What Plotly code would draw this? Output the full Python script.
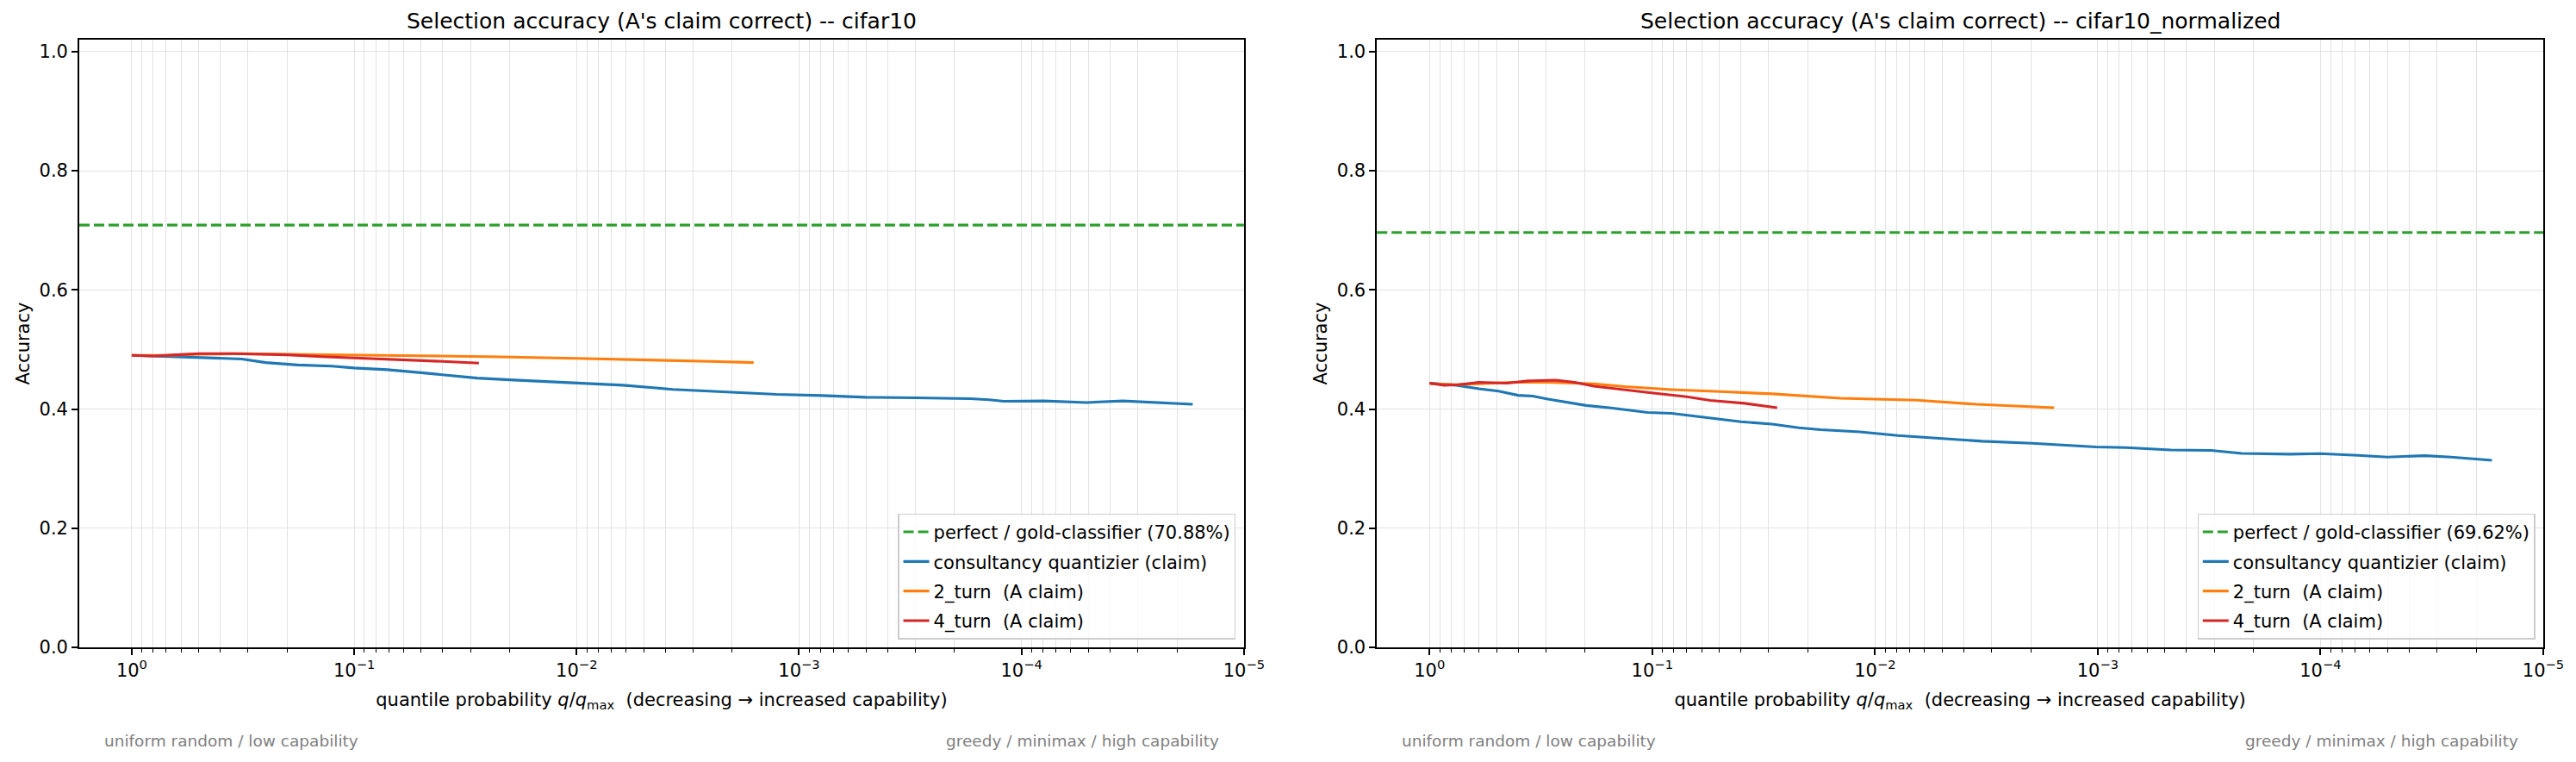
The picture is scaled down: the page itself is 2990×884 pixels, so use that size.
import plotly.graph_objects as go

# ---------------- data ----------------
panel_titles = ["Selection accuracy (A's claim correct) -- cifar10",
                "Selection accuracy (A's claim correct) -- cifar10_normalized"]
gold_acc = [0.7088, 0.6962]

# left panel (cifar10)
L_blue_q = [1.0, 0.79, 0.63, 0.45, 0.32, 0.25, 0.18, 0.126, 0.1, 0.071, 0.05, 0.035, 0.028,
            0.02, 0.0135, 0.01, 0.0062, 0.0037, 0.002, 0.00126, 0.00079, 0.0005, 0.0003,
            0.00017, 0.00014, 0.00012, 7.9e-5, 5.1e-5, 3.5e-5, 2.45e-5, 1.7e-5]
L_blue_acc = [0.490, 0.489, 0.488, 0.486, 0.484, 0.478, 0.474, 0.472, 0.469, 0.466, 0.461,
              0.456, 0.452, 0.449, 0.446, 0.444, 0.440, 0.433, 0.4285, 0.4246, 0.4227, 0.4198,
              0.4188, 0.4174, 0.4155, 0.413, 0.4136, 0.411, 0.4136, 0.4107, 0.408]
L_orange_q = [1.0, 0.7, 0.5, 0.32, 0.2, 0.1, 0.05, 0.025, 0.01, 0.005, 0.0025, 0.0016]
L_orange_acc = [0.490, 0.490, 0.492, 0.493, 0.492, 0.491, 0.489, 0.488, 0.485, 0.483, 0.480, 0.478]
L_red_q = [1.0, 0.79, 0.63, 0.5, 0.35, 0.25, 0.2, 0.14, 0.1, 0.063, 0.04, 0.0275]
L_red_acc = [0.490, 0.489, 0.491, 0.493, 0.493, 0.492, 0.491, 0.488, 0.486, 0.483, 0.480, 0.477]

# right panel (cifar10_normalized)
R_blue_q = [1.0, 0.76, 0.60, 0.49, 0.40, 0.344, 0.294, 0.232, 0.198, 0.156, 0.105, 0.082,
            0.060, 0.040, 0.029, 0.022, 0.0175, 0.0117, 0.0079, 0.0053, 0.0033, 0.00197,
            0.00102, 0.00075, 0.00047, 0.00031, 0.000226, 0.000137, 0.0001, 6.8e-5, 5.0e-5,
            3.4e-5, 2.6e-5, 1.7e-5]
R_blue_acc = [0.4434, 0.440, 0.434, 0.430, 0.423, 0.4217, 0.4168, 0.411, 0.406, 0.4023, 0.3942,
              0.3928, 0.387, 0.3787, 0.3748, 0.3686, 0.3653, 0.3618, 0.3556, 0.3517, 0.346,
              0.3425, 0.3363, 0.3353, 0.3314, 0.3305, 0.3256, 0.3242, 0.3252, 0.3223, 0.3194,
              0.3218, 0.3194, 0.314]
R_orange_q = [1.0, 0.76, 0.60, 0.42, 0.294, 0.183, 0.133, 0.082, 0.047, 0.029, 0.0143, 0.0065,
              0.0035, 0.00157]
R_orange_acc = [0.4427, 0.441, 0.4424, 0.4449, 0.4449, 0.4424, 0.4376, 0.4327, 0.4289, 0.4255,
                0.4182, 0.4149, 0.408, 0.4023]
R_red_q = [1.0, 0.86, 0.74, 0.60, 0.45, 0.36, 0.272, 0.223, 0.183, 0.156, 0.105, 0.070, 0.055,
           0.0386, 0.0275]
R_red_acc = [0.4434, 0.440, 0.441, 0.4449, 0.4434, 0.4472, 0.4486, 0.4449, 0.4385, 0.4352,
             0.4279, 0.4207, 0.4145, 0.4096, 0.4023]

series_names = ["consultancy quantizier (claim)", "2_turn\u00a0\u00a0(A claim)", "4_turn\u00a0\u00a0(A claim)"]
series_colors = ["#1f77b4", "#ff7f0e", "#d62728"]
gold_color = "#2ca02c"

x_tick_vals = [1, 1e-1, 1e-2, 1e-3, 1e-4, 1e-5]
x_tick_text = ["10<sup>0</sup>", "10<sup>\u22121</sup>", "10<sup>\u22122</sup>",
               "10<sup>\u22123</sup>", "10<sup>\u22124</sup>", "10<sup>\u22125</sup>"]
minor_vals = [m * 10.0 ** e for e in range(-5, 0) for m in range(2, 10)]

panels = [
    dict(blue=(L_blue_q, L_blue_acc), orange=(L_orange_q, L_orange_acc), red=(L_red_q, L_red_acc)),
    dict(blue=(R_blue_q, R_blue_acc), orange=(R_orange_q, R_orange_acc), red=(R_red_q, R_red_acc)),
]

# ---------------- layout geometry ----------------
W, H = 2990, 884
ml, mr, mt, mb = 91.5, 38, 46, 133
plot_w = W - ml - mr
dom_left = [0, (1443.6 - ml) / plot_w]
dom_right = [(1598 - ml) / plot_w, 1]

FONT = "DejaVu Sans"
GRID = "#e2e2e2"

fig = go.Figure()

for i, p in enumerate(panels):
    xa = "x" if i == 0 else "x2"
    ya = "y" if i == 0 else "y2"
    lg = "legend" if i == 0 else "legend2"
    pct = f"{gold_acc[i] * 100:.2f}%"
    # legend entry for gold line
    fig.add_trace(go.Scatter(x=[None], y=[None], mode="lines", xaxis=xa, yaxis=ya, legend=lg,
                             legendgroup=f"g{i}0",
                             line=dict(color=gold_color, width=3.1, dash="12px,5px"),
                             name=f"perfect / gold-classifier ({pct})"))
    for k, (key, nm, col) in enumerate(zip(["blue", "orange", "red"], series_names, series_colors)):
        qx, acc = p[key]
        fig.add_trace(go.Scatter(x=qx, y=acc, mode="lines", xaxis=xa, yaxis=ya, legend=lg,
                                 legendgroup=f"g{i}{k + 1}",
                                 line=dict(color=col, width=3.1), name=nm))
    xref_dom = "x domain" if i == 0 else "x2 domain"
    yref_dom = "y domain" if i == 0 else "y2 domain"
    fig.add_shape(type="line", xref=xref_dom, yref=ya, x0=0, x1=1, y0=gold_acc[i], y1=gold_acc[i],
                  line=dict(color=gold_color, width=3.1, dash="12px,5px"), layer="above")
    fig.add_annotation(xref=xref_dom, yref=yref_dom, x=0.5, y=1.0298, text=panel_titles[i],
                       showarrow=False, xanchor="center", yanchor="middle",
                       font=dict(family=FONT, size=25, color="black"))
    fig.add_annotation(xref=xref_dom, yref=yref_dom, x=0.02, y=-0.154,
                       text="uniform random / low capability", showarrow=False,
                       xanchor="left", yanchor="middle", font=dict(family=FONT, size=18.5, color="#808080"))
    fig.add_annotation(xref=xref_dom, yref=yref_dom, x=0.98, y=-0.154,
                       text="greedy / minimax / high capability", showarrow=False,
                       xanchor="right", yanchor="middle", font=dict(family=FONT, size=18.5, color="#808080"))

xaxis_common = dict(
    type="log", range=[0.236, -5], tickmode="array", tickvals=x_tick_vals, ticktext=x_tick_text,
    ticks="outside", ticklen=7, tickwidth=1.7, tickcolor="black",
    showline=True, linecolor="black", linewidth=1.7, mirror=True,
    showgrid=True, gridcolor=GRID, gridwidth=1.3, zeroline=False,
    minor=dict(tickmode="array", tickvals=minor_vals, ticks="outside", ticklen=4, tickwidth=1.2,
               tickcolor="black", showgrid=True, gridcolor=GRID, gridwidth=1.3),
    tickfont=dict(family=FONT, size=21, color="black"),
    title=dict(text="quantile probability <i>q</i>/<i>q</i><sub>max</sub>\u00a0\u00a0(decreasing \u2192 increased capability)",
               font=dict(family=FONT, size=21, color="black"), standoff=15),
)
yaxis_common = dict(
    range=[0, 1.02], tickmode="linear", tick0=0, dtick=0.2, tickformat=".1f",
    ticks="outside", ticklen=7, tickwidth=1.7, tickcolor="black",
    showline=True, linecolor="black", linewidth=1.7, mirror=True,
    showgrid=True, gridcolor=GRID, gridwidth=1.3, zeroline=False,
    tickfont=dict(family=FONT, size=21, color="black"),
    title=dict(text="Accuracy", font=dict(family=FONT, size=21, color="black"), standoff=5),
)

legend_common = dict(
    font=dict(family=FONT, size=21, color="black"), bgcolor="rgba(255,255,255,0.8)",
    bordercolor="#cccccc", borderwidth=1.3, xanchor="right", yanchor="bottom", y=0.0133,
    tracegroupgap=4,
)

fig.update_layout(
    width=W, height=H, margin=dict(l=ml, r=mr, t=mt, b=mb, pad=0),
    paper_bgcolor="white", plot_bgcolor="white",
    font=dict(family=FONT, color="black"),
    xaxis=dict(xaxis_common, domain=dom_left, anchor="y"),
    yaxis=dict(yaxis_common, domain=[0, 1], anchor="x"),
    xaxis2=dict(xaxis_common, domain=dom_right, anchor="y2"),
    yaxis2=dict(yaxis_common, domain=[0, 1], anchor="x2"),
    legend=dict(legend_common, x=(1434 - ml) / plot_w),
    legend2=dict(legend_common, x=(2942.5 - ml) / plot_w),
    showlegend=True,
)

fig.write_html("out.html", config={"displayModeBar": False},
               post_script="document.body.style.margin='0';")
